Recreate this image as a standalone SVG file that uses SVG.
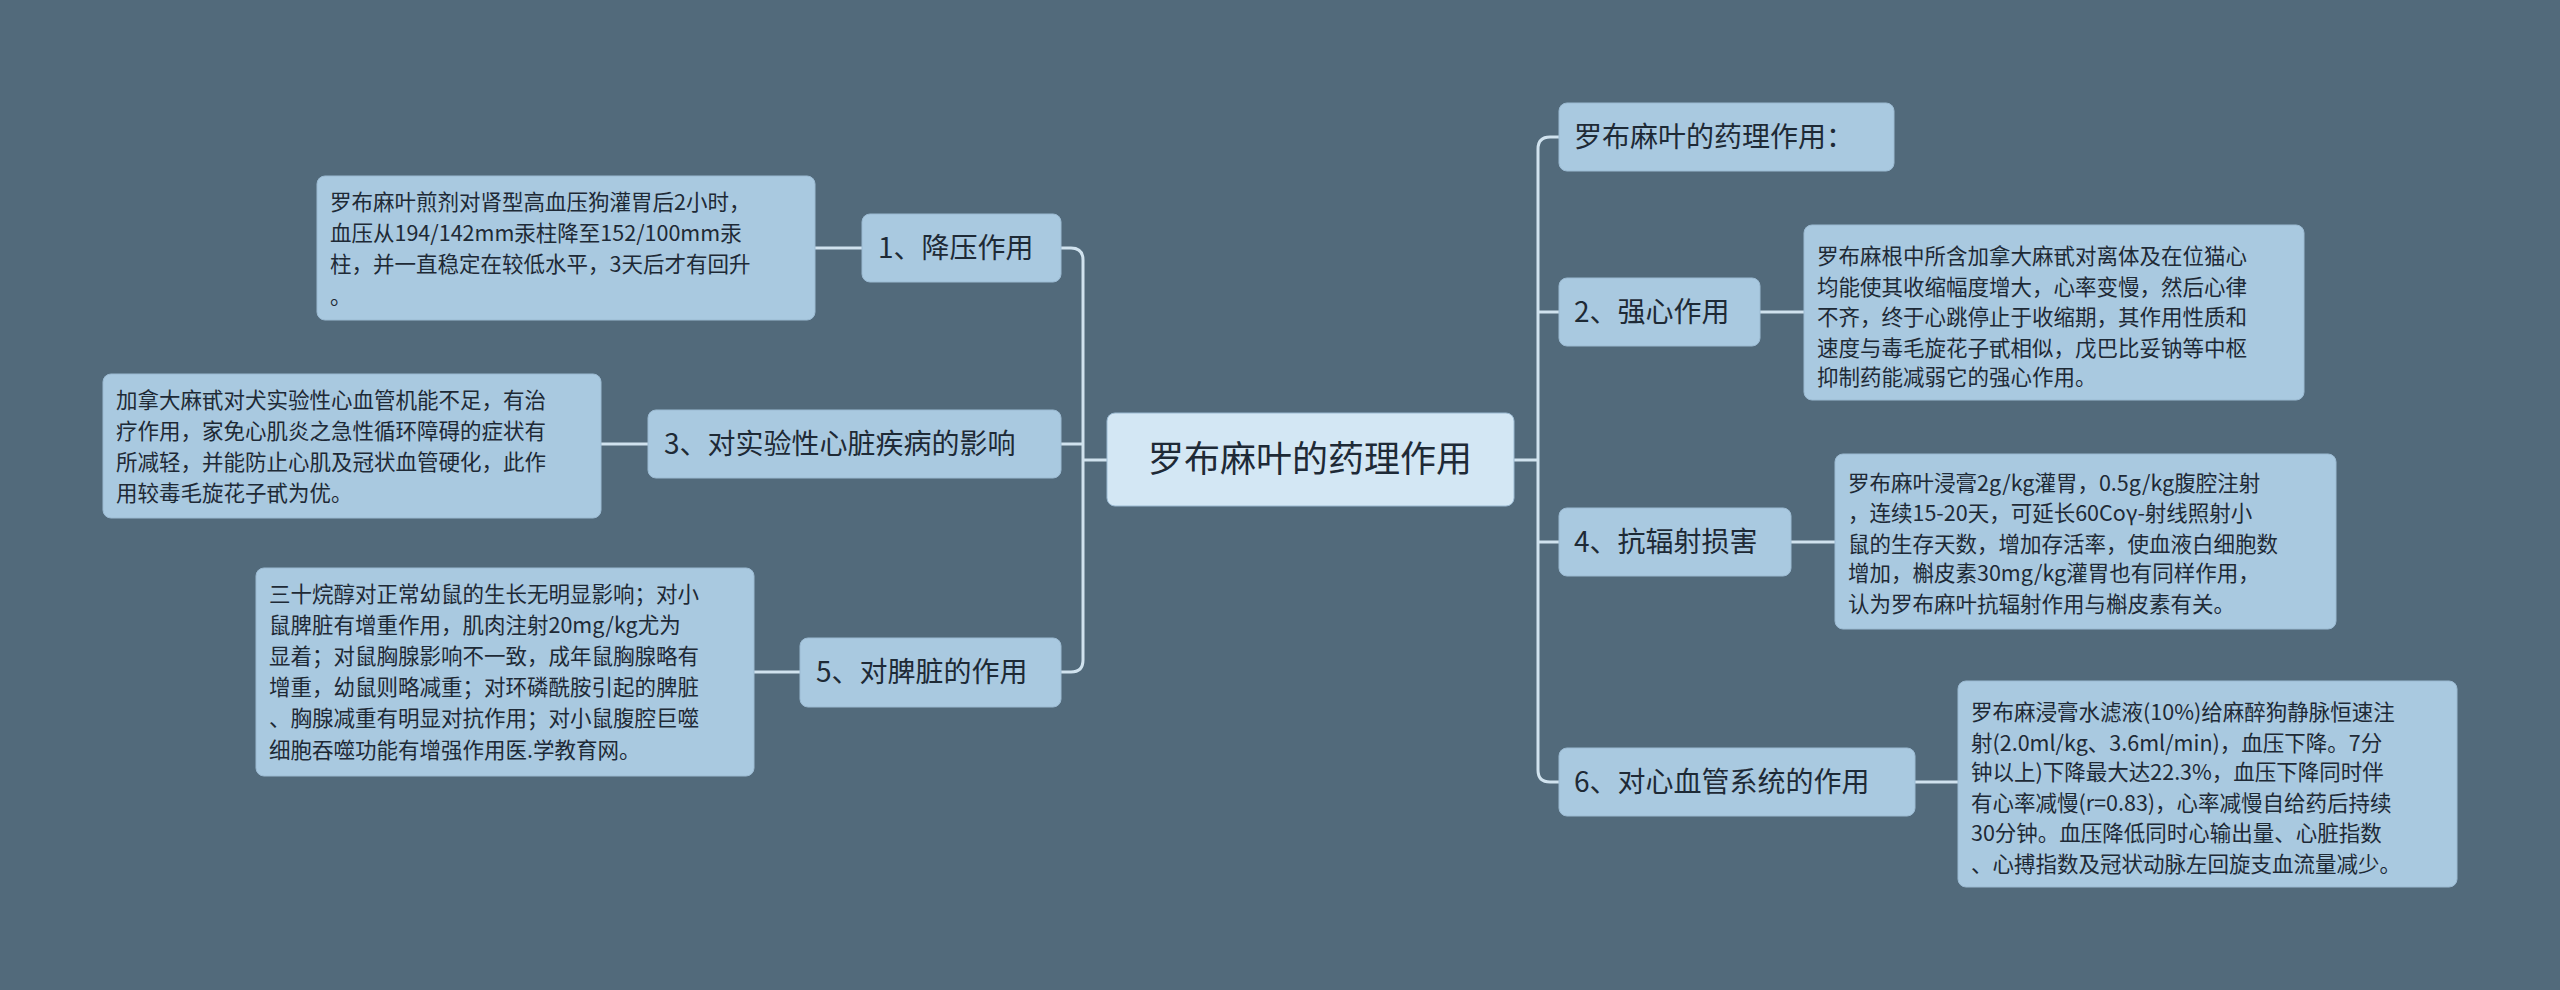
<svg xmlns="http://www.w3.org/2000/svg" width="2560" height="990" viewBox="0 0 2560 990">
<style>
text{font-family:"Noto Sans CJK SC","Liberation Sans",sans-serif;fill:#1e2a36}
.n{fill:#a9c9e0;stroke:#9bbad2;stroke-width:1}
.c{fill:#d3e7f4;stroke:#9bbad2}
.t{font-size:28px}
.d{font-size:21.5px}
.l{fill:none;stroke:#d0e2ee;stroke-width:3}
</style>
<rect width="2560" height="990" fill="#526a7b"/>
<g id="connectors">
<path class="l" d="M1107 460 H1083 M1061 248 H1071 Q1083 248 1083 260 V660 Q1083 672 1071 672 H1061 M1061 444 H1083"/>
<path class="l" d="M1514 460 H1538 M1559 137 H1550 Q1538 137 1538 149 V770 Q1538 782 1550 782 H1559 M1559 312 H1538 M1559 542 H1538"/>
<path class="l" d="M815 248 H862 M601 444 H648 M754 672 H800 M1760 312 H1804 M1791 542 H1835 M1915 782 H1958"/>
</g>
<g id="center"><rect class="c" x="1107" y="413" width="407" height="93" rx="8"/><text x="1310" y="472" font-size="36" text-anchor="middle">罗布麻叶的药理作用</text></g>
<g id="n1"><rect class="n" x="862" y="214" width="199" height="68" rx="8"/><text class="t" x="878" y="258">1、降压作用</text></g>
<g id="n3"><rect class="n" x="648" y="410" width="413" height="68" rx="8"/><text class="t" x="664" y="454">3、对实验性心脏疾病的影响</text></g>
<g id="n5"><rect class="n" x="800" y="638" width="261" height="69" rx="8"/><text class="t" x="816" y="682">5、对脾脏的作用</text></g>
<g id="r0"><rect class="n" x="1559" y="103" width="335" height="68" rx="8"/><text class="t" x="1574" y="147">罗布麻叶的药理作用：</text></g>
<g id="n2"><rect class="n" x="1559" y="278" width="201" height="68" rx="8"/><text class="t" x="1574" y="322">2、强心作用</text></g>
<g id="n4"><rect class="n" x="1559" y="508" width="232" height="68" rx="8"/><text class="t" x="1574" y="552">4、抗辐射损害</text></g>
<g id="n6"><rect class="n" x="1559" y="748" width="356" height="68" rx="8"/><text class="t" x="1574" y="792">6、对心血管系统的作用</text></g>
<g id="d1"><rect class="n" x="317" y="176" width="498" height="144" rx="8"/><text class="d"><tspan x="330" y="210">罗布麻叶煎剂对肾型高血压狗灌胃后2小时，</tspan><tspan x="330" y="241">血压从194/142mm汞柱降至152/100mm汞</tspan><tspan x="330" y="272">柱，并一直稳定在较低水平，3天后才有回升</tspan><tspan x="330" y="304">。</tspan></text></g>
<g id="d3"><rect class="n" x="103" y="374" width="498" height="144" rx="8"/><text class="d"><tspan x="116" y="408">加拿大麻甙对犬实验性心血管机能不足，有治</tspan><tspan x="116" y="439">疗作用，家免心肌炎之急性循环障碍的症状有</tspan><tspan x="116" y="470">所减轻，并能防止心肌及冠状血管硬化，此作</tspan><tspan x="116" y="501">用较毒毛旋花子甙为优。</tspan></text></g>
<g id="d5"><rect class="n" x="256" y="568" width="498" height="208" rx="8"/><text class="d"><tspan x="269" y="602">三十烷醇对正常幼鼠的生长无明显影响；对小</tspan><tspan x="269" y="633">鼠脾脏有增重作用，肌肉注射20mg/kg尤为</tspan><tspan x="269" y="664">显着；对鼠胸腺影响不一致，成年鼠胸腺略有</tspan><tspan x="269" y="695">增重，幼鼠则略减重；对环磷酰胺引起的脾脏</tspan><tspan x="269" y="726">、胸腺减重有明显对抗作用；对小鼠腹腔巨噬</tspan><tspan x="269" y="758">细胞吞噬功能有增强作用医.学教育网。</tspan></text></g>
<g id="d2"><rect class="n" x="1804" y="225" width="500" height="175" rx="8"/><text class="d"><tspan x="1817" y="264">罗布麻根中所含加拿大麻甙对离体及在位猫心</tspan><tspan x="1817" y="295">均能使其收缩幅度增大，心率变慢，然后心律</tspan><tspan x="1817" y="325">不齐，终于心跳停止于收缩期，其作用性质和</tspan><tspan x="1817" y="356">速度与毒毛旋花子甙相似，戊巴比妥钠等中枢</tspan><tspan x="1817" y="385">抑制药能减弱它的强心作用。</tspan></text></g>
<g id="d4"><rect class="n" x="1835" y="454" width="501" height="175" rx="8"/><text class="d"><tspan x="1848" y="491">罗布麻叶浸膏2g/kg灌胃，0.5g/kg腹腔注射</tspan><tspan x="1848" y="521">，连续15-20天，可延长60Coγ-射线照射小</tspan><tspan x="1848" y="552">鼠的生存天数，增加存活率，使血液白细胞数</tspan><tspan x="1848" y="581">增加，槲皮素30mg/kg灌胃也有同样作用，</tspan><tspan x="1848" y="612">认为罗布麻叶抗辐射作用与槲皮素有关。</tspan></text></g>
<g id="d6"><rect class="n" x="1958" y="681" width="499" height="206" rx="8"/><text class="d"><tspan x="1971" y="720">罗布麻浸膏水滤液(10%)给麻醉狗静脉恒速注</tspan><tspan x="1971" y="751">射(2.0ml/kg、3.6ml/min)，血压下降。7分</tspan><tspan x="1971" y="780">钟以上)下降最大达22.3%，血压下降同时伴</tspan><tspan x="1971" y="811">有心率减慢(r=0.83)，心率减慢自给药后持续</tspan><tspan x="1971" y="841">30分钟。血压降低同时心输出量、心脏指数</tspan><tspan x="1971" y="872">、心搏指数及冠状动脉左回旋支血流量减少。</tspan></text></g>
</svg>
